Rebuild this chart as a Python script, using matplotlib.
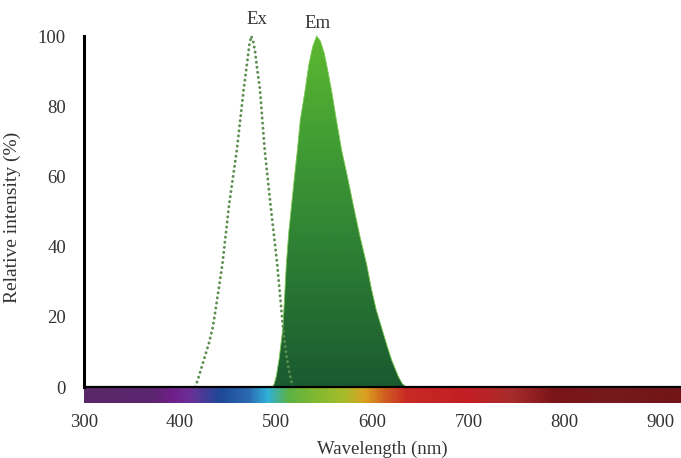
import numpy as np
import matplotlib
matplotlib.use("Agg")
import matplotlib.pyplot as plt
from matplotlib.colors import LinearSegmentedColormap, to_rgb

# ---- data ----
ex_nm = [416, 420, 425, 430, 434, 438, 444, 451, 459, 466, 470, 472, 474, 476, 478, 480,
         483, 488, 494, 501, 507, 510, 513, 517]
ex_int = [0, 3.5, 8, 12.5, 17, 24, 35, 52, 67.5, 84.5, 93, 97.5, 100, 98.5, 95.5, 91,
          85, 67.5, 52, 35, 17, 10, 5, 0]

em_nm = [496.5, 498, 500, 503, 507, 510.5, 513, 516, 519, 522, 525, 530, 534, 538, 542,
         546, 550, 553, 557.5, 562, 568, 574, 580, 587, 594, 599, 604, 609.5, 615, 620,
         627, 631, 635]
em_int = [0, 1, 3, 8, 17, 35, 44, 52, 60, 67.5, 76, 84.5, 92, 97, 100,
          98.5, 95, 91, 84.5, 77, 67.5, 60, 52, 43, 35, 28, 22, 17, 12, 7.7,
          3, 1, 0]

x_ticks = [300, 400, 500, 600, 700, 800, 900]
y_ticks = [0, 20, 40, 60, 80, 100]

spectrum_nm = [300, 370, 390, 410, 440, 470, 490, 512, 540, 570, 592, 612, 635, 700, 745, 790, 850, 921]
spectrum_colors = ["#5a2868", "#5c2670", "#701e88", "#6a3098", "#1e4896", "#2a6ab0", "#30b0d8",
                   "#5cb244", "#80b830", "#a8bc2c", "#dca020", "#d06020", "#c82a24", "#c21e24",
                   "#a82c2c", "#7a1418", "#761a1e", "#721418"]

XMIN, XMAX = 299, 921
YMIN, YMAX = -4.5, 101

plt.rcParams['font.family'] = ['Liberation Serif', 'DejaVu Serif']
text_color = "#333333"

fig = plt.figure(figsize=(6.81, 4.58), dpi=100)
ax = fig.add_axes([83 / 681, 1 - 402.8 / 458, 1 - 83 / 681, (402.8 - 32.5) / 458])
ax.set_xlim(XMIN, XMAX)
ax.set_ylim(YMIN, YMAX)

# spectrum bar
pos = [(v - spectrum_nm[0]) / (spectrum_nm[-1] - spectrum_nm[0]) for v in spectrum_nm]
cmap = LinearSegmentedColormap.from_list("spec", list(zip(pos, [to_rgb(c) for c in spectrum_colors])))
grad = np.linspace(0, 1, 600).reshape(1, -1)
ax.imshow(grad, cmap=cmap, aspect='auto', extent=[spectrum_nm[0], spectrum_nm[-1], YMIN, 0],
          zorder=1, interpolation='bilinear')

# Em filled with vertical gradient
poly = ax.fill_between(em_nm, em_int, 0, color='none', edgecolor='#7cc850', linewidth=0.6, zorder=3)
em_cmap = LinearSegmentedColormap.from_list("em", ["#1a5a30", "#2a7a34", "#3f9a34", "#5cb830"])
vgrad = np.linspace(0, 1, 256).reshape(-1, 1)
im = ax.imshow(vgrad, cmap=em_cmap, aspect='auto', origin='lower',
               extent=[min(em_nm), max(em_nm), 0, max(em_int)], zorder=2, interpolation='bilinear')
im.set_clip_path(poly.get_paths()[0], transform=ax.transData)

# Ex dotted
ax.plot(ex_nm, ex_int, linestyle=(0, (0.05, 1.7)), color='#5a8e4e', linewidth=2.1,
        dash_capstyle='round', solid_capstyle='round', zorder=4)

# axes lines
ax.axhline(0, color='black', linewidth=1.6, zorder=5)
for s in ['top', 'right', 'bottom']:
    ax.spines[s].set_visible(False)
ax.spines['left'].set_bounds(0, 100)
ax.spines['left'].set_linewidth(2.2)
ax.spines['left'].set_color('black')
ax.spines['left'].set_position(('data', 300))

ax.set_xticks(x_ticks)
ax.set_yticks(y_ticks)
ax.tick_params(axis='both', length=0, labelsize=13.5, labelcolor=text_color)
ax.tick_params(axis='x', pad=8)
ax.tick_params(axis='y', pad=13)

ax.set_xlabel("Wavelength (nm)", fontsize=13.5, color=text_color, labelpad=7)
ax.set_ylabel("Relative intensity (%)", fontsize=14, color=text_color, labelpad=12)

ax.text(480, 104.8, "Ex", ha='center', va='center', fontsize=13.5, color=text_color, clip_on=False)
ax.text(543, 103.7, "Em", ha='center', va='center', fontsize=13.5, color=text_color, clip_on=False)

fig.savefig("out.png", dpi=100)
